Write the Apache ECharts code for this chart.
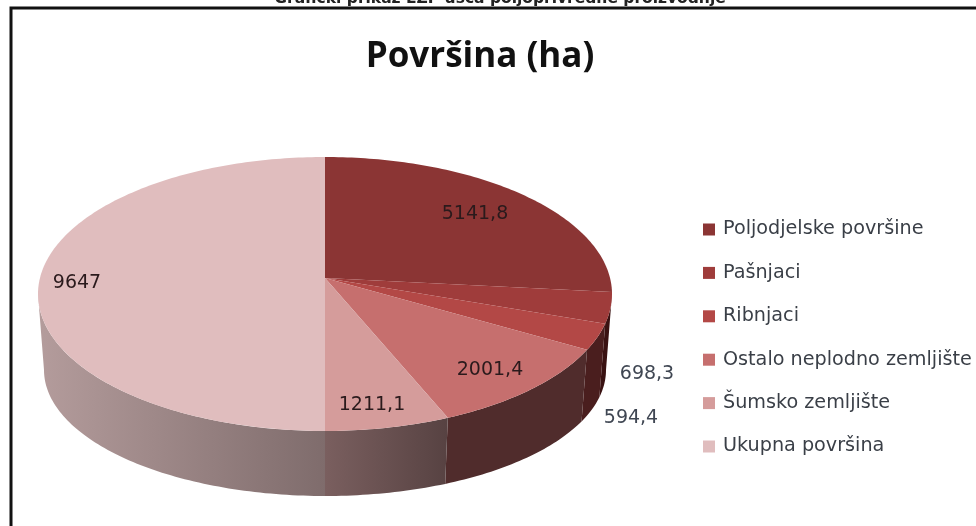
<!DOCTYPE html>
<html>
<head>
<meta charset="utf-8">
<script src="https://cdn.jsdelivr.net/npm/echarts@6/dist/echarts.min.js"></script>
<style>
html, body { margin: 0; padding: 0; background: #fff; }
#chart { width: 976px; height: 526px; }
</style>
</head>
<body>
<div id="chart"></div>
<script>
var categories = ['Poljodjelske površine', 'Pašnjaci', 'Ribnjaci', 'Ostalo neplodno zemljište', 'Šumsko zemljište', 'Ukupna površina'];
var areas = [5141.8, 698.3, 594.4, 2001.4, 1211.1, 9647];
var areaLabels = ['5141,8', '698,3', '594,4', '2001,4', '1211,1', '9647'];

var topColors = ['#8b3534', '#9f3c3b', '#b34846', '#c66f6e', '#d59c9b', '#e0bdbe'];
var wallFills = [
	'#3a1212',
	'#3a1212',
	'#4a1e1e',
	'#502c2c',
	{ type: 'linear', x: 0, y: 0, x2: 1, y2: 0, colorStops: [{ offset: 0, color: '#7a5f5f' }, { offset: 1, color: '#574242' }] },
	{ type: 'linear', x: 0, y: 0, x2: 1, y2: 0, colorStops: [{ offset: 0, color: '#b49c9c' }, { offset: 1, color: '#7f6c6c' }] }
];
// label anchors, pixels
var labelAnchors = [[475, 214], [647, 374], [631, 418], [490, 370], [372, 405], [77, 283]];

// the pie top is an ellipse seen in perspective, so its centre sits above the ellipse centre
var topFace = { cx: 325, cy: 294, rx: 287, ry: 137 };
var baseFace = { cx: 325, cy: 370, rx: 281, ry: 126 };
var skew = -0.117;

var total = 0;
for (var i = 0; i < areas.length; i++) {
	total += areas[i];
}

function rimPoint(face, deg) {
	var rad = deg * Math.PI / 180;
	var u = Math.sin(rad);
	var v = -Math.cos(rad);
	var d = 1 + skew * v;
	return [
		face.cx + face.rx * u * Math.sqrt(1 - skew * skew) / d,
		face.cy + face.ry * (v + skew) / d
	];
}

function rimArc(face, from, to) {
	var pts = [];
	var n = Math.max(2, Math.ceil(Math.abs(to - from)));
	for (var i = 0; i <= n; i++) {
		pts.push(rimPoint(face, from + (to - from) * i / n));
	}
	return pts;
}

function makeRenderItem(index) {
	return function(params, api) {
		var start = 0;
		for (var i = 0; i < index; i++) {
			start += areas[i];
		}
		var from = start / total * 360;
		var to = (start + api.value(0)) / total * 360;
		var children = [];

		// wall only shows on the near part of the rim, widest points of the ellipse
		var wallFrom = Math.max(from, 96.7);
		var wallTo = Math.min(to, 263.3);
		if (wallTo > wallFrom) {
			children.push({
				type: 'polygon',
				shape: { points: rimArc(topFace, wallFrom, wallTo).concat(rimArc(baseFace, wallTo, wallFrom)) },
				style: { fill: wallFills[index] }
			});
		}

		var centre = [topFace.cx, topFace.cy + topFace.ry * skew];
		children.push({
			type: 'polygon',
			shape: { points: [centre].concat(rimArc(topFace, from, to)) },
			style: { fill: topColors[index] },
			z2: 5
		});
		children.push({
			type: 'text',
			x: labelAnchors[index][0],
			y: labelAnchors[index][1],
			z2: 10,
			style: {
				text: areaLabels[index],
				fill: index == 1 || index == 2 ? '#3f4652' : '#2a1a1c',
				font: '19px "DejaVu Sans"',
				align: 'center',
				verticalAlign: 'middle'
			}
		});
		return { type: 'group', children: children };
	};
}

var seriesList = [];
for (var k = 0; k < categories.length; k++) {
	seriesList.push({
		type: 'custom',
		name: categories[k],
		coordinateSystem: 'none',
		silent: true,
		z: k == 4 || k == 5 ? 3 : 2,
		itemStyle: { color: topColors[k] },
		data: [[areas[k]]],
		renderItem: makeRenderItem(k)
	});
}

var myChart = echarts.init(document.getElementById('chart'), null, { renderer: 'canvas' });
myChart.setOption({
	backgroundColor: '#fff',
	animation: false,
	title: {
		text: 'Površina (ha)',
		left: 475,
		top: 35,
		textAlign: 'center',
		textStyle: { fontFamily: 'Open Sans', fontSize: 35, fontWeight: 700, color: '#111' }
	},
	legend: {
		orient: 'vertical',
		left: 698,
		top: 215,
		icon: 'rect',
		itemWidth: 12,
		itemHeight: 12,
		itemGap: 24.4,
		selectedMode: false,
		data: categories,
		textStyle: { fontFamily: 'DejaVu Sans', fontSize: 19.2, color: '#3a3f47', padding: [0, 0, 0, 3] }
	},
	graphic: [
		{
			type: 'polyline',
			shape: { points: [[11, 530], [11, 8], [980, 8]] },
			style: { stroke: '#111', lineWidth: 3, fill: null }
		},
		{
			type: 'text',
			x: 500,
			y: -1,
			style: {
				text: 'Grafički prikaz EZP ušća poljoprivredne proizvodnje',
				fill: '#222',
				font: 'bold 15.5px "DejaVu Sans"',
				align: 'center',
				verticalAlign: 'middle'
			}
		}
	],
	series: seriesList
});
</script>
</body>
</html>
